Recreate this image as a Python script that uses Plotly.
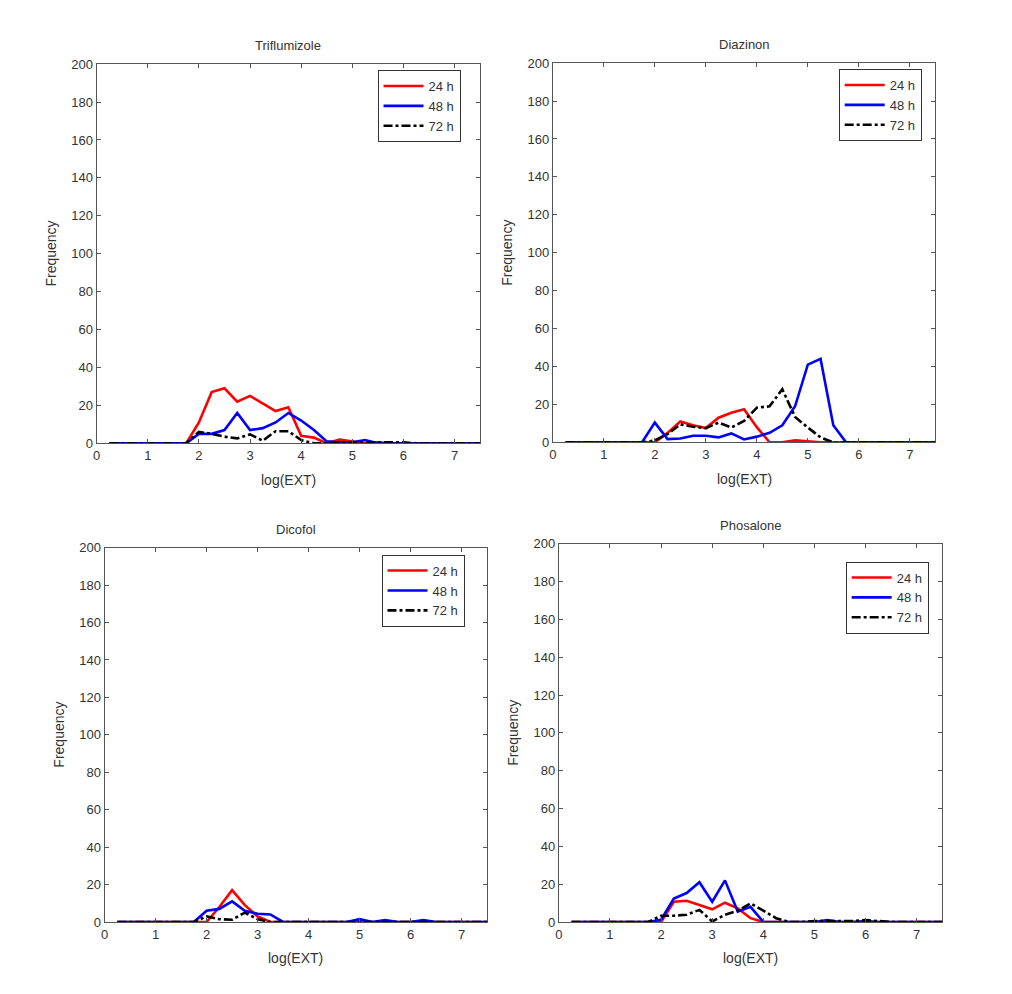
import plotly.graph_objects as go

# Bin centres of log(EXT)
log_ext = [0.25, 0.5, 0.75, 1.0, 1.25, 1.5, 1.75, 2.0, 2.25, 2.5, 2.75, 3.0, 3.25, 3.5, 3.75,
           4.0, 4.25, 4.5, 4.75, 5.0, 5.25, 5.5, 5.75, 6.0, 6.25, 6.5, 6.75, 7.0, 7.25, 7.5]

series_names = ["24 h", "48 h", "72 h"]
panel_titles = ["Triflumizole", "Diazinon", "Dicofol", "Phosalone"]

triflumizole_24 = [0, 0, 0, 0, 0, 0, 0, 11, 27, 29, 22, 25, 21, 17, 19, 4, 3, 0, 2, 1, 0, 0.5, 0, 0, 0, 0, 0, 0, 0, 0]
triflumizole_48 = [0, 0, 0, 0, 0, 0, 0, 5, 5, 7, 16, 7, 8, 11, 16, 12, 7, 1, 0.5, 0.5, 1.7, 0, 0, 0, 0, 0, 0, 0, 0, 0]
triflumizole_72 = [0, 0, 0, 0, 0, 0, 0, 6, 5, 3.5, 2.6, 4.7, 1.4, 6.4, 6.4, 1.7, 0, 0, 0.5, 0.5, 0.5, 0.5, 0.5, 0.5, 0, 0, 0, 0, 0, 0]

diazinon_24 = [0, 0, 0, 0, 0, 0, 0, 0, 5, 11, 9, 7.5, 13, 15.6, 17.5, 8, 0, 0, 1, 0.5, 0, 0, 0, 0, 0, 0, 0, 0, 0, 0]
diazinon_48 = [0, 0, 0, 0, 0, 0, 0, 10.4, 1.7, 2, 3.5, 3.5, 2.6, 4.7, 1.5, 3, 5, 9, 19, 41, 44, 9, 0, 0, 0, 0, 0, 0, 0, 0]
diazinon_72 = [0, 0, 0, 0, 0, 0, 0, 1, 4.3, 9.5, 8.2, 7.5, 10.4, 7.8, 11.3, 18.3, 19, 28, 13.4, 7.8, 2.6, 0, 0, 0, 0, 0, 0, 0, 0, 0]

dicofol_24 = [0, 0, 0, 0, 0, 0, 0, 0, 8, 17, 9, 3, 0, 0, 0, 0, 0, 0, 0, 0, 0, 0, 0, 0, 0, 0, 0, 0, 0, 0]
dicofol_48 = [0, 0, 0, 0, 0, 0, 0, 6, 7, 11, 6, 4.4, 4, 0, 0, 0, 0, 0, 0, 1.5, 0, 1, 0, 0, 1, 0, 0, 0, 0, 0]
dicofol_72 = [0, 0, 0, 0, 0, 0, 0, 3, 1.5, 1.2, 5, 1.5, 0, 0, 0, 0, 0, 0, 0, 0, 0, 0, 0, 0, 0, 0, 0, 0, 0, 0]

phosalone_24 = [0, 0, 0, 0, 0, 0, 0, 0, 10.7, 11.2, 9, 6.7, 10.2, 7.2, 2, 0, 0, 0, 0, 0, 0, 0, 0, 0, 0, 0, 0, 0, 0, 0]
phosalone_48 = [0, 0, 0, 0, 0, 0, 0, 1.2, 12.4, 15.3, 21, 10.7, 22, 5.5, 8, 0, 0, 0, 0, 0, 1, 0, 0, 0.5, 0, 0, 0, 0, 0, 0]
phosalone_72 = [0, 0, 0, 0, 0, 0, 0, 3.3, 3.3, 3.8, 6.4, 0.3, 3.8, 6, 9.8, 6, 2, 0, 0, 0.5, 0.5, 0.5, 0.5, 1, 0.5, 0, 0, 0, 0, 0]

panel_data = [
    [triflumizole_24, triflumizole_48, triflumizole_72],
    [diazinon_24, diazinon_48, diazinon_72],
    [dicofol_24, dicofol_48, dicofol_72],
    [phosalone_24, phosalone_48, phosalone_72],
]

x_ticks = [0, 1, 2, 3, 4, 5, 6, 7]
y_ticks = [0, 20, 40, 60, 80, 100, 120, 140, 160, 180, 200]

W, H = 1012, 994
# plot boxes in pixels: (left, right, top, bottom)
boxes = [(93, 478, 58, 443), (551, 935, 57, 442), (101, 485, 549, 929), (557, 942, 545, 929)]
legend_pos = [(375, 64), (838, 63), (379, 556), (845, 563)]

colors = ["#ff0000", "#0000ff", "#000000"]
dashes = ["solid", "solid", "dashdot"]
FONT = "Liberation Sans, Arial, sans-serif"
TXT = "#333333"
AX = "#555555"

fig = go.Figure()
layout = dict(width=W, height=H, margin=dict(l=0, r=0, t=0, b=0),
              paper_bgcolor="white", plot_bgcolor="white",
              font=dict(family=FONT, size=13, color=TXT))
annotations = []

for i, (vals, title, box, lp) in enumerate(zip(panel_data, panel_titles, boxes, legend_pos)):
    n = "" if i == 0 else str(i + 1)
    lname = "legend" + n
    for s in range(3):
        fig.add_trace(go.Scatter(
            x=log_ext, y=vals[s], mode="lines", name=series_names[s],
            line=dict(color=colors[s], width=2.6, dash=dashes[s]),
            xaxis="x" + n, yaxis="y" + n, legend=lname, showlegend=True))
    l, r, t, b = box
    axcommon = dict(showline=True, linecolor=AX, linewidth=1, mirror="ticks",
                    ticks="inside", ticklen=4, tickcolor=AX, showgrid=False,
                    zeroline=False, tickfont=dict(family=FONT, size=13, color=TXT))
    layout["xaxis" + n] = dict(domain=[l / W, r / W], range=[0, 7.5], tickvals=x_ticks,
                               anchor="y" + n, **axcommon)
    layout["yaxis" + n] = dict(domain=[1 - b / H, 1 - t / H], range=[0, 200], tickvals=y_ticks,
                               anchor="x" + n, **axcommon)
    layout[lname] = dict(x=lp[0] / W, y=1 - lp[1] / H, xanchor="left", yanchor="top",
                         bgcolor="white", bordercolor="#333333", borderwidth=1,
                         itemwidth=40,
                         font=dict(family=FONT, size=13, color=TXT), tracegroupgap=0)
    cx = (l + r) / 2 / W
    annotations.append(dict(text=title, x=cx, y=1 - (t - 19) / H, xref="paper", yref="paper",
                            showarrow=False, xanchor="center", yanchor="middle",
                            font=dict(family=FONT, size=13, color=TXT)))
    annotations.append(dict(text="log(EXT)", x=cx, y=1 - (b + 37) / H, xref="paper", yref="paper",
                            showarrow=False, xanchor="center", yanchor="middle",
                            font=dict(family=FONT, size=14, color=TXT)))
    annotations.append(dict(text="Frequency", x=(l - 46) / W, y=1 - (t + b) / 2 / H,
                            xref="paper", yref="paper", textangle=-90,
                            showarrow=False, xanchor="center", yanchor="middle",
                            font=dict(family=FONT, size=14, color=TXT)))

layout["annotations"] = annotations
fig.update_layout(**layout)
fig.write_html("out.html")
